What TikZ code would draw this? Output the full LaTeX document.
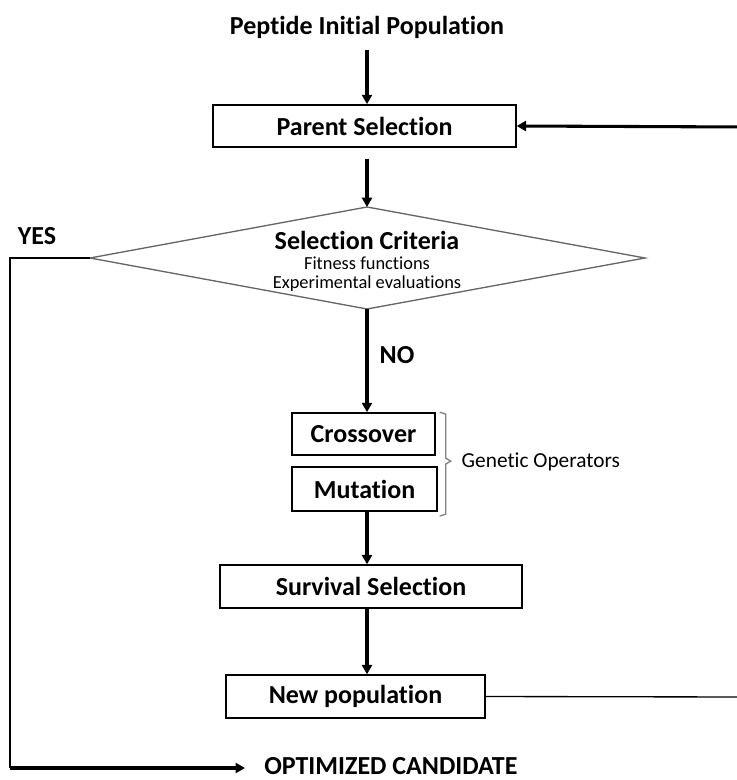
\documentclass[tikz,border=0pt]{standalone}
\usepackage{fontspec}
\setmainfont{Carlito}[Ligatures=NoCommon]
\usetikzlibrary{arrows.meta}
\begin{document}
\begin{tikzpicture}[x=0.75pt,y=-0.75pt,
  box/.style={draw=black,line width=1.3pt,minimum height=31.5pt,inner sep=0pt},
  conn/.style={line width=2.3pt,-{Triangle[length=7pt,width=7.5pt]}},
  lbl/.style={font=\bfseries\fontsize{19.5}{22}\selectfont},
  small/.style={font=\fontsize{13.8}{16}\selectfont}]
\useasboundingbox (0,0) rectangle (737,780);
\node[lbl] (init) at (367,27) {Peptide Initial Population};
\node[box,minimum width=227pt,lbl] (parent) at (364.5,126) {Parent Selection};
\draw[draw=gray!80!black,line width=1pt] (90,258) coordinate (dl) -- (367,207) coordinate (dt) -- (645,258) coordinate (dr) -- (367,309) coordinate (db) -- cycle;
\node[lbl] (crit) at (367,240) {Selection Criteria};
\node[small] (fit) at (367,263) {Fitness functions};
\node[small] (exp) at (367,284) {Experimental evaluations};
\node[lbl] (yes) at (37,236) {YES};
\node[lbl] (no) at (397,355) {NO};
\node[box,minimum width=107pt,lbl] (cross) at (363.5,434) {Crossover};
\node[box,minimum width=109pt,minimum height=33pt,lbl] (mut) at (364.5,489) {Mutation};
\node[font=\fontsize{16}{19}\selectfont,anchor=west] (gen) at (457,462) {Genetic Operators};
\node[box,minimum width=226.5pt,minimum height=32pt,lbl] (surv) at (371,586.5) {Survival Selection};
\node[box,minimum width=194pt,minimum height=32pt,lbl] (newpop) at (355.5,696.5) {New population};
\node[lbl,anchor=west,inner sep=0pt] (opt) at (264,766) {OPTIMIZED CANDIDATE};
\coordinate (oa) at (245,768);
\coordinate (re1) at (745,697);
\coordinate (re2) at (745,127);
\coordinate (yl) at (10,258);
\coordinate (yb) at (10,768);
% connectors
\draw[conn,shorten <=5pt] (init.south) -- (init.south |- parent.north);
\draw[conn,shorten <=8pt] (dt |- parent.south) -- (dt);
\draw[conn] (db) -- (db |- cross.north);
\draw[conn] (db |- mut.south) -- (db |- surv.north);
\draw[conn] (db |- surv.south) -- (db |- newpop.north);
\draw[line width=1.2pt] (dl) -- (yl) -- (yb);
\draw[conn] (yb) -- (oa);
\draw[line width=1pt] (newpop.east) -- (re1) -- (re2);
\draw[conn] (re2) -- (parent.east);
\draw[draw=gray,line width=1pt] (cross.north east) ++(4,0) -- ++(6,2) -- ++(0,44) -- ++(5,3) -- ++(-5,3) -- ++(0,50) -- ++(-6,2);
\end{tikzpicture}
\end{document}
